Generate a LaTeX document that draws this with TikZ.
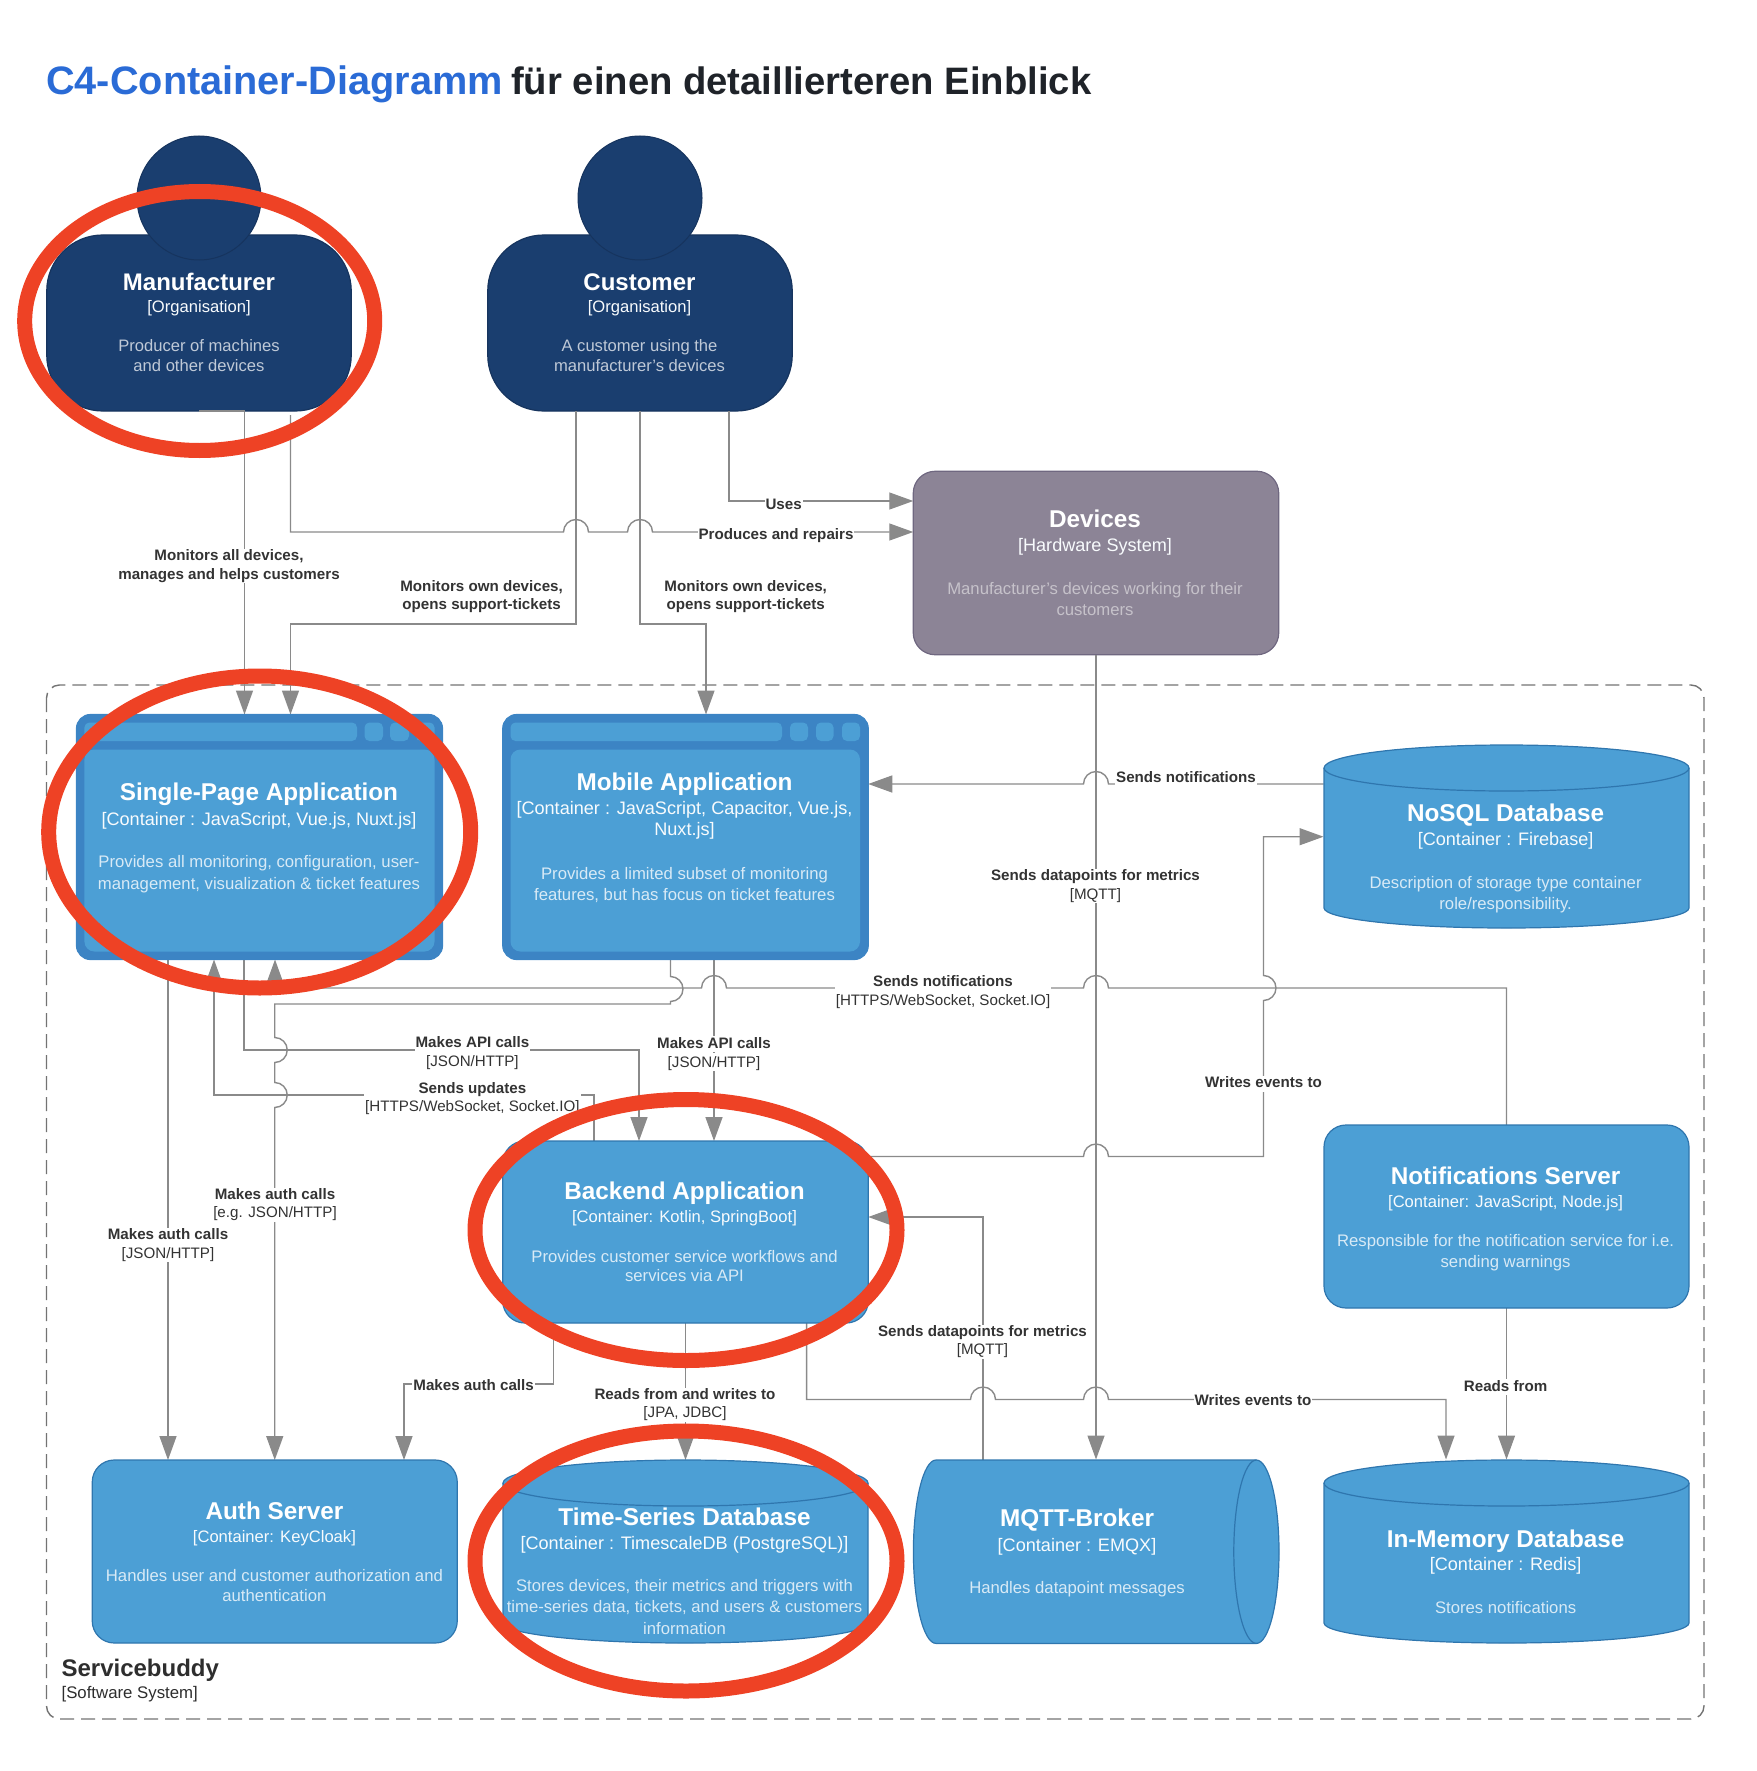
\documentclass[tikz,border=0pt]{standalone}
\usepackage{fontspec}
\setmainfont{Liberation Sans}
\usetikzlibrary{arrows.meta}
\definecolor{navy}{HTML}{1A3E6F}
\definecolor{navyline}{HTML}{16345E}
\definecolor{blu}{HTML}{4C9FD5}
\definecolor{bluouter}{HTML}{3C84C4}
\definecolor{bluline}{HTML}{2F76AE}
\definecolor{dev}{HTML}{8C8496}
\definecolor{devline}{HTML}{6F6780}
\definecolor{conn}{HTML}{8A8A8A}
\definecolor{redring}{HTML}{EE4225}
\definecolor{titleblue}{HTML}{2A6BD6}
\definecolor{titledark}{HTML}{1F2329}
\definecolor{lbltext}{HTML}{333333}
\newcommand{\fs}[1]{\fontsize{#1}{#1}\selectfont}
\tikzset{
  shapebox/.style={rectangle,inner sep=0pt,outer sep=0pt,line width=1.2pt},
  bluebox/.style={shapebox,fill=blu,draw=bluline,rounded corners=22pt},
  winbox/.style={shapebox,fill=bluouter,draw=bluouter,rounded corners=14pt},
  winpart/.style={fill=blu,rounded corners=5pt},
  person/.style={shapebox,fill=navy,draw=navyline,rounded corners=56pt},
  ghost/.style={shapebox},
  cylfill/.style={fill=blu,draw=bluline,line width=1.2pt},
  cyledge/.style={draw=bluline,line width=1.2pt},
  baseline text/.style={inner sep=0pt,outer sep=0pt,anchor=base,align=center},
  ttlA/.style={baseline text,font=\fs{24.3}\bfseries,text=white},
  subA/.style={baseline text,font=\fs{18.1},text=white!96!blu},
  subB/.style={baseline text,font=\fs{16.6},text=white!96!blu},
  dscA/.style={baseline text,font=\fs{16.7},text=white!78!blu},
  dscP/.style={baseline text,font=\fs{16.6},text=white!72!navy},
  dscD/.style={baseline text,font=\fs{16.7},text=white!50!dev},
  edgeb/.style={baseline text,font=\fs{15.15}\bfseries,text=lbltext,fill=white,text height=12pt,text depth=4pt,inner xsep=1pt},
  edger/.style={baseline text,font=\fs{15.15},text=lbltext,fill=white,text height=14.5pt,text depth=4pt,inner xsep=1pt},
  edgew/.style={edger,text height=20pt},
  link/.style={draw=conn,line width=1.4pt},
  arrowlink/.style={link,-{Triangle[length=24pt,width=17pt,fill=conn]}},
  boundary/.style={draw=black!55,line width=1.4pt,dash pattern=on 14pt off 7pt,rounded corners=13pt},
  ring/.style={draw=redring,line width=15pt},
}
% bumps over a crossed line: horizontal going right / left, vertical going up / down
\newcommand{\hopR}[2]{-- (#1-12.5,#2) arc[start angle=180,end angle=360,radius=12.5]}
\newcommand{\hopL}[2]{-- (#1+12.5,#2) arc[start angle=0,end angle=-180,radius=12.5]}
\newcommand{\hopU}[2]{-- (#1,#2+12.5) arc[start angle=90,end angle=-90,radius=12.5]}
\newcommand{\hopD}[2]{-- (#1,#2-12.5) arc[start angle=-90,end angle=90,radius=12.5]}
% vertical database cylinder: x1,y1,x2,y2
\newcommand{\dbcyl}[4]{%
  \pgfmathsetmacro{\rx}{(#3-#1)/2}%
  \path[cylfill] (#1,#2+23) -- (#1,#4-20) arc[start angle=180,end angle=0,x radius=\rx,y radius=20] -- (#3,#2+23) arc[start angle=0,end angle=-180,x radius=\rx,y radius=23] -- cycle;
  \path[cyledge] (#1,#2+23) arc[start angle=180,end angle=0,x radius=\rx,y radius=23];
}
\begin{document}
\begin{tikzpicture}[x=1pt,y=-1pt]
\useasboundingbox (0,0) rectangle (1756,1771);

% title
\node[inner sep=0pt,anchor=base west,font=\fs{39.7}\bfseries,text=titleblue] (titleA) at (46,94.5) {C4-Container-Diagramm};
\node[inner sep=0pt,anchor=base west,font=\fs{38.25}\bfseries,text=titledark] (titleB) at (511,94.5) {für einen detaillierteren Einblick};

% boundary
\draw[boundary] (46.5,685) rectangle (1704,1719);

% named geometry that the connectors attach to
\coordinate (manout) at (290.5,415);
\node[person,minimum width=304.5pt,minimum height=176pt] (man) at (199,323) {};
\node[person,minimum width=304.5pt,minimum height=176pt] (cus) at (640,323) {};
\node[shapebox,fill=dev,draw=devline,rounded corners=22pt,minimum width=365.5pt,minimum height=183.5pt] (devs) at (1096,563) {};
\node[ghost,minimum width=366pt,minimum height=245pt] (spa) at (259.5,837) {};
\node[ghost,minimum width=365.5pt,minimum height=245pt] (mob) at (685.5,837) {};
\node[ghost,minimum width=366pt,minimum height=183pt] (nosql) at (1506.5,836.5) {};
\node[ghost,minimum width=365.5pt,minimum height=182pt] (back) at (685.5,1232) {};
\node[ghost,minimum width=366pt,minimum height=183pt] (notif) at (1506.5,1216.5) {};
\node[ghost,minimum width=366pt,minimum height=183pt] (auth) at (274.75,1551.5) {};
\node[ghost,minimum width=366pt,minimum height=183pt] (tsdb) at (685.5,1551.5) {};
\node[ghost,minimum width=366pt,minimum height=184pt] (mqtt) at (1096,1551.5) {};
\node[ghost,minimum width=366pt,minimum height=184pt] (mem) at (1506.5,1551.5) {};

% connectors
\draw[arrowlink] (man.south) -- (244.5,411) -- (spa.north -| 244.5,0);
\draw[arrowlink] (manout) -- (290.5,532) \hopR{576}{532} \hopR{640}{532} -- (devs.west |- 0,532);
\draw[arrowlink] (cus.south -| 576,0) -- (576,624) -- (290.5,624) -- (spa.north -| 290.5,0);
\draw[arrowlink] (cus.south) -- (640,624) -- (706,624) -- (mob.north -| 706,0);
\draw[arrowlink] (cus.south -| 729,0) -- (729,501) -- (devs.west |- 0,501);
\draw[arrowlink] (devs.south) -- (mqtt.north);
\draw[arrowlink] (nosql.west |- 0,784) \hopL{1096}{784} -- (mob.east |- 0,784);
\draw[arrowlink] (notif.north) -- (1506.5,988) \hopL{1096}{988} \hopL{714}{988} -- (275,988) -- (spa.south -| 275,0);
\draw[arrowlink] (back.east |- 0,1156.5) \hopR{1096}{1156.5} -- (1263.5,1156.5) \hopU{1263.5}{988} -- (1263.5,836.7) -- (nosql.west |- 0,836.7);
\draw[arrowlink] (mob.south -| 670.5,0) \hopD{670.5}{989} -- (670.5,1004) -- (274.75,1004) \hopD{274.75}{1050} \hopD{274.75}{1095} -- (auth.north);
\draw[arrowlink] (spa.south -| 244,0) -- (244,1050) -- (639,1050) -- (back.north -| 639,0);
\draw[arrowlink] (back.north -| 594,0) -- (594,1095) -- (214,1095) -- (spa.south -| 214,0);
\draw[arrowlink] (mob.south -| 714,0) -- (back.north -| 714,0);
\draw[arrowlink] (spa.south -| 168,0) -- (auth.north -| 168,0);
\draw[arrowlink] (mqtt.north -| 983,0) -- (983,1217) -- (back.east |- 0,1217);
\draw[arrowlink] (back.south) -- (tsdb.north);
\draw[arrowlink] (back.south -| 806.6,0) -- (806.6,1399.5) \hopR{983}{1399.5} \hopR{1096}{1399.5} -- (1446,1399.5) -- (mem.north -| 1446,0);
\draw[arrowlink] (back.south -| 553.4,0) -- (553.4,1384) -- (404,1384) -- (auth.north -| 404,0);
\draw[arrowlink] (notif.south) -- (mem.north);

% person heads
\draw[fill=navy,draw=navyline,line width=1pt] (199,198) circle[radius=62];
\draw[fill=navy,draw=navyline,line width=1pt] (640,198) circle[radius=62];

% window containers
\node[winbox,minimum width=366pt,minimum height=245pt] (spabox) at (259.5,837) {};
\fill[winpart] (84.4,722.5) rectangle (357,741);
\fill[winpart] (364.5,722.5) rectangle (383,741);
\fill[winpart] (390,722.5) rectangle (409,741);
\fill[winpart] (416,722.5) rectangle (434.5,741);
\fill[winpart,rounded corners=10pt] (84.4,749.5) rectangle (434.5,951.5);
\node[winbox,minimum width=365.5pt,minimum height=245pt] (mobbox) at (685.5,837) {};
\fill[winpart] (510.5,722.5) rectangle (782,741);
\fill[winpart] (790,722.5) rectangle (808,741);
\fill[winpart] (816,722.5) rectangle (833.5,741);
\fill[winpart] (842,722.5) rectangle (860,741);
\fill[winpart,rounded corners=10pt] (510.5,749.5) rectangle (860,951.5);

% plain containers
\node[bluebox,minimum width=365.5pt,minimum height=182pt] (backbox) at (685.5,1232) {};
\node[bluebox,minimum width=365pt,minimum height=183pt] (notifbox) at (1506.5,1216.5) {};
\node[bluebox,minimum width=365pt,minimum height=183pt] (authbox) at (274.75,1551.5) {};

% cylinders
\dbcyl{1324}{745}{1689}{928}
\dbcyl{503}{1460}{868}{1643}
\dbcyl{1324}{1460}{1689}{1643}
% horizontal cylinder
\path[cylfill] (1256.4,1460) -- (936,1460) arc[start angle=-90,end angle=-270,x radius=22.6,y radius=91.7] -- (1256.4,1643.4) arc[start angle=90,end angle=-90,x radius=22.6,y radius=91.7] -- cycle;
\path[cyledge] (1256.4,1460) arc[start angle=-90,end angle=-270,x radius=22.6,y radius=91.7];

% people text
\node[ttlA,font=\fs{24}\bfseries] (manT) at (199,290) {Manufacturer};
\node[subB] (manS) at (199,312.5) {[Organisation]};
\node[dscP] (manD1) at (199,351.5) {Producer of machines};
\node[dscP] (manD2) at (199,371.5) {and other devices};
\node[ttlA,font=\fs{24}\bfseries] (cusT) at (639.5,290) {Customer};
\node[subB] (cusS) at (639.5,312.5) {[Organisation]};
\node[dscP] (cusD1) at (639.5,351.5) {A customer using the};
\node[dscP] (cusD2) at (639.5,371.5) {manufacturer's devices};

% devices
\node[ttlA] (devT) at (1095,527.5) {Devices};
\node[subA] (devS) at (1095,551.5) {[Hardware System]};
\node[dscD] (devD1) at (1095,594.5) {Manufacturer's devices working for their};
\node[dscD] (devD2) at (1095,615.5) {customers};

% nosql
\node[ttlA] (nosT) at (1505.6,821) {NoSQL Database};
\node[subA] (nosS) at (1505.6,845.5) {[Container : Firebase]};
\node[dscA] (nosD1) at (1505.6,888) {Description of storage type container};
\node[dscA] (nosD2) at (1505.6,909) {role/responsibility.};

% spa
\node[ttlA] (spaT) at (259,800.5) {Single-Page Application};
\node[subA] (spaS) at (259,825) {[Container : JavaScript, Vue.js, Nuxt.js]};
\node[dscA] (spaD1) at (259,867.5) {Provides all monitoring, configuration, user-};
\node[dscA] (spaD2) at (259,889) {management, visualization \& ticket features};

% mobile
\node[ttlA] (mobT) at (684.5,790) {Mobile Application};
\node[subA] (mobS1) at (684.5,814.5) {[Container : JavaScript, Capacitor, Vue.js,};
\node[subA] (mobS2) at (684.5,835.5) {Nuxt.js]};
\node[dscA] (mobD1) at (684.5,879) {Provides a limited subset of monitoring};
\node[dscA] (mobD2) at (684.5,900) {features, but has focus on ticket features};

% backend
\node[ttlA] (bacT) at (684.5,1199.5) {Backend Application};
\node[subB] (bacS) at (684.5,1222.7) {[Container: Kotlin, SpringBoot]};
\node[dscA] (bacD1) at (684.5,1262) {Provides customer service workflows and};
\node[dscA] (bacD2) at (684.5,1281.6) {services via API};

% notifications
\node[ttlA] (notT) at (1505.6,1184) {Notifications Server};
\node[subB] (notS) at (1505.6,1207) {[Container: JavaScript, Node.js]};
\node[dscA] (notD1) at (1505.6,1246.8) {Responsible for the notification service for i.e.};
\node[dscA] (notD2) at (1505.6,1267) {sending warnings};

% auth
\node[ttlA] (autT) at (274.4,1519) {Auth Server};
\node[subB] (autS) at (274.4,1542) {[Container: KeyCloak]};
\node[dscA] (autD1) at (274.4,1581.5) {Handles user and customer authorization and};
\node[dscA] (autD2) at (274.4,1601.5) {authentication};

% time series
\node[ttlA] (tsT) at (684.5,1525) {Time-Series Database};
\node[subA] (tsS) at (684.5,1549) {[Container : TimescaleDB (PostgreSQL)]};
\node[dscA] (tsD1) at (684.5,1591.5) {Stores devices, their metrics and triggers with};
\node[dscA] (tsD2) at (684.5,1612.5) {time-series data, tickets, and users \& customers};
\node[dscA] (tsD3) at (684.5,1634) {information};

% mqtt
\node[ttlA] (mqT) at (1077,1526.6) {MQTT-Broker};
\node[subA] (mqS) at (1077,1551) {[Container : EMQX]};
\node[dscA] (mqD) at (1077,1593) {Handles datapoint messages};

% memory
\node[ttlA] (memT) at (1505.6,1547) {In-Memory Database};
\node[subA] (memS) at (1505.6,1570.5) {[Container : Redis]};
\node[dscA] (memD) at (1505.6,1613.5) {Stores notifications};

% system label
\node[inner sep=0pt,anchor=base west,font=\fs{24}\bfseries,text=black!82] (sysT) at (61.4,1676) {Servicebuddy};
\node[inner sep=0pt,anchor=base west,font=\fs{16.8},text=black!82] (sysS) at (61.4,1698) {[Software System]};

% connector labels (second lines first, so their backing never hides the first line)
\node[edgeb,text height=14pt] (l1b) at (229,579) {manages and helps customers};
\node[edgeb] (l1a) at (229,560.7) {Monitors all devices,};
\node[edgeb,fill=none] (l2a) at (481.6,591) {Monitors own devices,};
\node[edgeb,fill=none] (l2b) at (481.6,609.4) {opens support-tickets};
\node[edgeb,fill=none] (l3a) at (745.7,591) {Monitors own devices,};
\node[edgeb,fill=none] (l3b) at (745.7,609.4) {opens support-tickets};
\node[edgeb] (l4) at (783.6,509) {Uses};
\node[edgeb] (l5) at (776,539.5) {Produces and repairs};
\node[edgeb] (l6) at (1186,782.5) {Sends notifications};
\node[edger] (l7b) at (1095.5,899) {[MQTT]};
\node[edgeb] (l7a) at (1095.5,880.6) {Sends datapoints for metrics};
\node[edgew] (l8b) at (943,1005.6) {[HTTPS/WebSocket, Socket.IO]};
\node[edgeb] (l8a) at (943,986.7) {Sends notifications};
\node[edgeb] (l9) at (1263.5,1087.8) {Writes events to};
\node[edger] (l10b) at (472.4,1066.5) {[JSON/HTTP]};
\node[edgeb] (l10a) at (472.4,1047.4) {Makes API calls};
\node[edger] (l11b) at (714,1067) {[JSON/HTTP]};
\node[edgeb] (l11a) at (714,1048) {Makes API calls};
\node[edgew] (l12b) at (472.4,1111) {[HTTPS/WebSocket, Socket.IO]};
\node[edgeb] (l12a) at (472.4,1093) {Sends updates};
\node[edger] (l13b) at (275,1217.7) {[e.g. JSON/HTTP]};
\node[edgeb] (l13a) at (275,1199.7) {Makes auth calls};
\node[edger] (l14b) at (168,1258) {[JSON/HTTP]};
\node[edgeb] (l14a) at (168,1239.5) {Makes auth calls};
\node[edgeb] (l15) at (473.6,1390.5) {Makes auth calls};
\node[edger] (l16b) at (685,1417.8) {[JPA, JDBC]};
\node[edgeb] (l16a) at (685,1399.5) {Reads from and writes to};
\node[edger] (l17b) at (982.5,1354.6) {[MQTT]};
\node[edgeb] (l17a) at (982.5,1336.6) {Sends datapoints for metrics};
\node[edgeb] (l18) at (1253,1405) {Writes events to};
\node[edgeb] (l19) at (1505.6,1391) {Reads from};

% red marker rings
\draw[ring] (199.7,321) ellipse[x radius=175,y radius=129.5];
\draw[ring] (259.7,832) ellipse[x radius=211,y radius=156];
\draw[ring] (686,1230) ellipse[x radius=211,y radius=130.5];
\draw[ring] (686,1561) ellipse[x radius=211,y radius=130];
\end{tikzpicture}
\end{document}
